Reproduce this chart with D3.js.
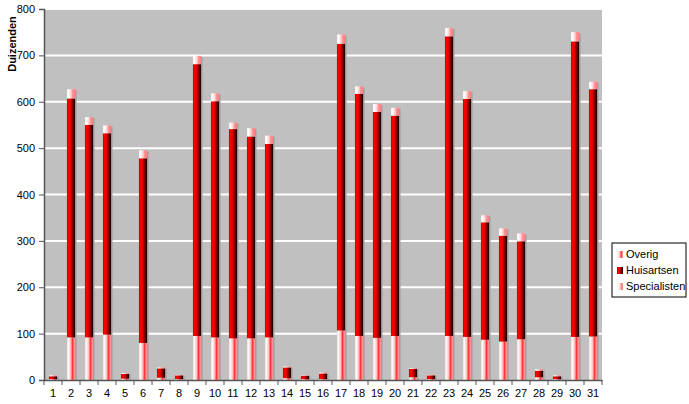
<!DOCTYPE html>
<html><head><meta charset="utf-8">
<script src="https://cdn.jsdelivr.net/npm/d3@7"></script>
<style>body{margin:0;background:#fff}svg{display:block;font-family:"Liberation Sans",Arial,sans-serif}</style>
</head><body><svg id="c" width="689" height="404"></svg>
<script>
const categories = d3.range(1, 32).map(String);
const overig =      [2, 92, 92, 98, 3, 80, 5, 2, 95, 92, 90, 90, 92, 4, 2, 2, 107, 95, 91, 95, 6, 2, 95, 93, 87, 83, 88, 6, 2, 93, 94];
const huisartsen =  [6, 515, 458, 434, 10, 398, 20, 8, 586, 509, 451, 435, 417, 23, 7, 12, 618, 522, 487, 475, 18, 8, 646, 513, 253, 228, 211, 14, 6, 637, 533];
const specialisten = [2, 20, 17, 17, 2, 17, 2, 1, 18, 17, 14, 18, 18, 2, 1, 2, 20, 16, 17, 17, 2, 1, 18, 17, 15, 16, 17, 3, 2, 20, 16];
const seriesNames = ["Overig", "Huisartsen", "Specialisten"];
const yTicks = [0, 100, 200, 300, 400, 500, 600, 700, 800];

const svg = d3.select("#c");
const m = {l: 44, r: 87, t: 9, b: 24};
const W = 689, H = 404;
const x = d3.scaleBand().domain(categories).range([m.l, W - m.r]).paddingInner(0.55).paddingOuter(0.275);
const xb = d3.scaleBand().domain(categories).range([m.l, W - m.r]);
const y = d3.scaleLinear().domain([0, 800]).range([H - m.b, m.t]);

const defs = svg.append("defs");
function grad(id, stops) {
  const g = defs.append("linearGradient").attr("id", id).attr("x1", 0).attr("x2", 1).attr("y1", 0).attr("y2", 0);
  stops.forEach(([o, c]) => g.append("stop").attr("offset", o).attr("stop-color", c));
}
grad("gO", [[0, "#f0d0d0"], [0.15, "#ffffff"], [0.45, "#ffc0c0"], [0.7, "#ff3030"], [0.85, "#ff8080"], [1, "#ffa0a0"]]);
grad("gH", [[0, "#c00000"], [0.2, "#ff0000"], [0.45, "#e00000"], [0.7, "#800000"], [0.9, "#300000"], [1, "#100000"]]);
grad("gS", [[0, "#f8f0f0"], [0.2, "#ffffff"], [0.5, "#ffd0d0"], [0.7, "#ff9090"], [1, "#ff8080"]]);

// plot area
svg.append("rect").attr("x", m.l + 1).attr("y", m.t).attr("width", W - m.r - m.l - 1).attr("height", y(0) - m.t).attr("fill", "#c0c0c0");
svg.append("g").selectAll("line").data(yTicks.filter(d => d > 0)).join("line")
  .attr("x1", m.l + 1).attr("x2", W - m.r).attr("y1", d => y(d)).attr("y2", d => y(d))
  .attr("stroke", "#fff").attr("stroke-width", 2);

const data = categories.map((c, i) => ({c, Overig: overig[i], Huisartsen: huisartsen[i], Specialisten: specialisten[i]}));
const stack = d3.stack().keys(seriesNames)(data);
const fills = {Overig: "url(#gO)", Huisartsen: "url(#gH)", Specialisten: "url(#gS)"};

// shadow
svg.append("g").selectAll("rect").data(data).join("rect")
  .attr("x", d => x(d.c) + 1.5).attr("width", x.bandwidth())
  .attr("y", d => y(d.Overig + d.Huisartsen + d.Specialisten) + 1)
  .attr("height", d => y(0) - y(d.Overig + d.Huisartsen + d.Specialisten) - 1)
  .attr("fill", "#a0a0a0");

stack.forEach(s => {
  svg.append("g").selectAll("rect").data(s).join("rect")
    .attr("x", d => x(d.data.c)).attr("width", x.bandwidth())
    .attr("y", d => y(d[1])).attr("height", d => Math.max(0, y(d[0]) - y(d[1])))
    .attr("fill", fills[s.key]);
});

// axes
const ya = d3.axisLeft(y).tickValues(yTicks).tickSize(5).tickPadding(4);
const gy = svg.append("g").attr("transform", `translate(${m.l},0)`).call(ya);
gy.select(".domain").attr("stroke", "#555").attr("stroke-width", 1.5);
gy.selectAll(".tick line").attr("stroke", "#555");
gy.selectAll("text").attr("font-size", 11).attr("fill", "#000");

const xa = d3.axisBottom(xb).tickSize(0).tickPadding(9);
const gx = svg.append("g").attr("transform", `translate(0,${y(0)})`).call(xa);
gx.select(".domain").attr("stroke", "#555").attr("stroke-width", 1.5);
gx.selectAll("text").attr("font-size", 11).attr("fill", "#000");
svg.append("g").selectAll("line").data(categories.concat(["end"])).join("line")
  .attr("x1", (d, i) => m.l + i * xb.step()).attr("x2", (d, i) => m.l + i * xb.step())
  .attr("y1", y(0)).attr("y2", y(0) + 5).attr("stroke", "#555");

svg.append("text").attr("transform", `translate(16,44) rotate(-90)`).attr("text-anchor", "middle")
  .attr("font-size", 11).attr("font-weight", "bold").text("Duizenden");

// legend
const lg = svg.append("g").attr("transform", "translate(612,243)");
lg.append("rect").attr("width", 74).attr("height", 54).attr("fill", "#fff").attr("stroke", "#000");
seriesNames.forEach((n, i) => {
  lg.append("rect").attr("x", 5).attr("y", 8 + i * 16).attr("width", 6).attr("height", 7).attr("fill", fills[n]);
  lg.append("text").attr("x", 14).attr("y", 15 + i * 16).attr("font-size", 11).text(n);
});
</script></body></html>
